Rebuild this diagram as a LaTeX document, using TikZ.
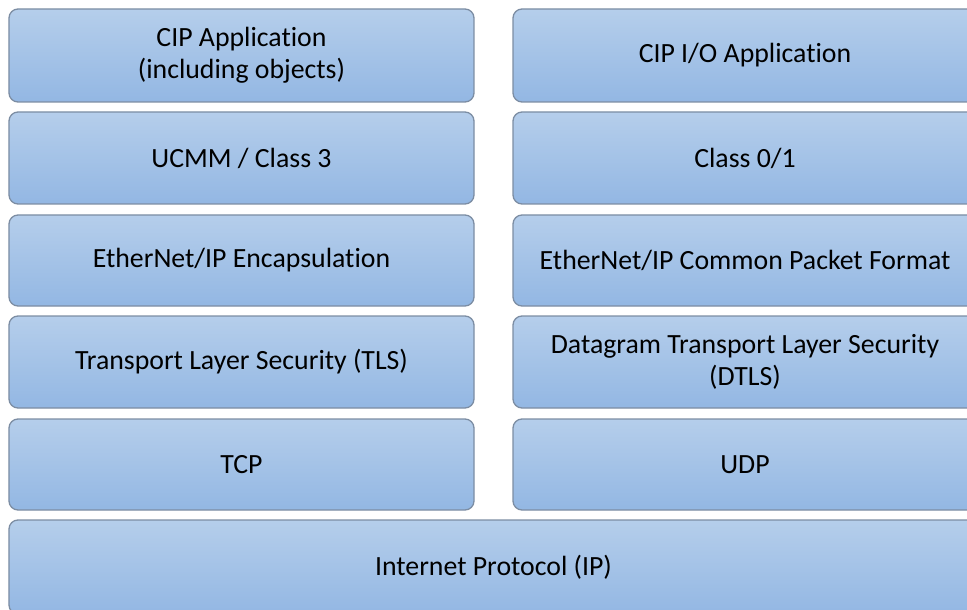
\documentclass[tikz,border=0pt]{standalone}
\usepackage{fontspec}
\setmainfont[Ligatures=NoCommon]{Carlito}
\definecolor{boxtop}{HTML}{B5CEEB}
\definecolor{boxbot}{HTML}{93B7E3}
\definecolor{boxline}{HTML}{7C8DA3}
\tikzset{
  layer/.style={draw=boxline, line width=1.3bp, rounded corners=9bp,
    top color=boxtop, bottom color=boxbot, align=center,
    font=\fontsize{27.8bp}{32bp}\selectfont, text=black, inner sep=0pt},
  lower/.style={execute at begin node={\vspace*{#1}}}
}
\begin{document}
\begin{tikzpicture}[x=1bp,y=-1bp]
\useasboundingbox (0,0) rectangle (967,610);
\clip (0,0) rectangle (967,610);
% left column
\node[layer, lower=6bp, minimum width=465bp, minimum height=93bp] (app) at (241.5,55.5) {CIP Application\\(including objects)};
\node[layer, lower=3bp, minimum width=465bp, minimum height=92bp] (ucmm) at (241.5,158) {UCMM / Class 3};
\node[layer, lower=3bp, minimum width=465bp, minimum height=91bp] (encap) at (241.5,260.5) {EtherNet/IP Encapsulation};
\node[layer, lower=3bp, minimum width=465bp, minimum height=92bp] (tls) at (241.5,362) {Transport Layer Security (TLS)};
\node[layer, lower=3bp, minimum width=465bp, minimum height=91bp] (tcp) at (241.5,464.5) {TCP};
% right column
\node[layer, lower=3bp, minimum width=464bp, minimum height=93bp] (io) at (745,55.5) {CIP I/O Application};
\node[layer, lower=3bp, minimum width=464bp, minimum height=92bp] (cls) at (745,158) {Class 0/1};
\node[layer, lower=3bp, minimum width=464bp, minimum height=91bp] (cpf) at (745,260.5) {EtherNet/IP Common Packet Format};
\node[layer, lower=6bp, minimum width=464bp, minimum height=92bp] (dtls) at (745,362) {Datagram Transport Layer Security\\(DTLS)};
\node[layer, lower=3bp, minimum width=464bp, minimum height=91bp] (udp) at (745,464.5) {UDP};
% bottom
\node[layer, lower=3bp, minimum width=969bp, minimum height=94bp] (ip) at (493.5,567) {Internet Protocol (IP)};
\end{tikzpicture}
\end{document}
